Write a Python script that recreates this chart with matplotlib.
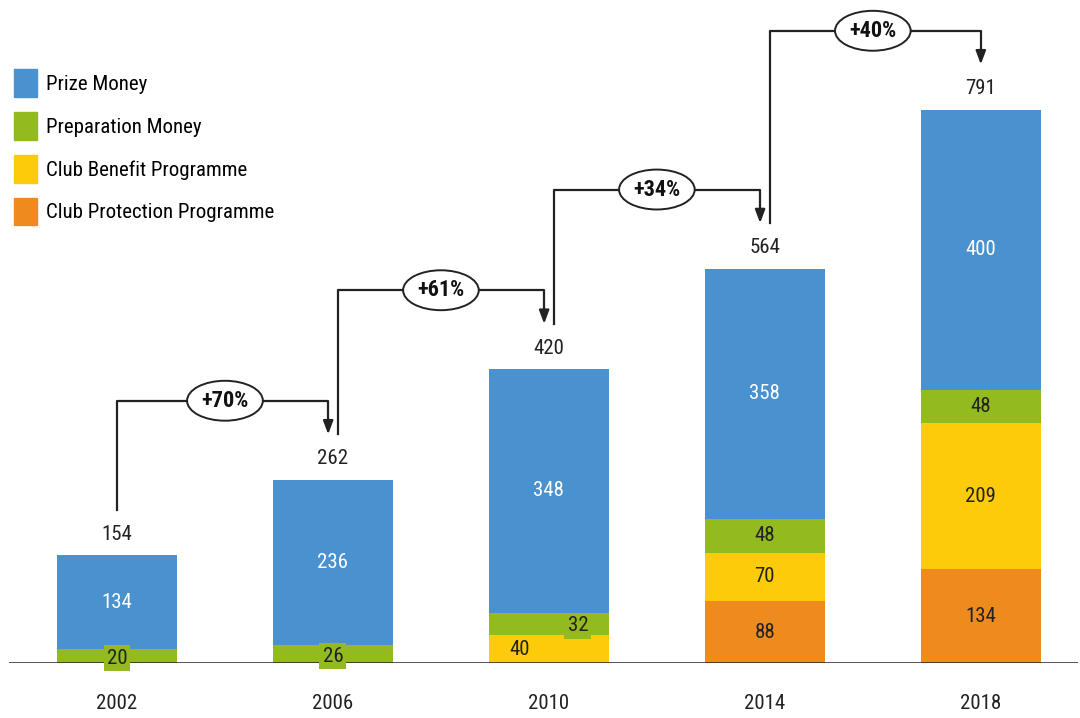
import matplotlib.pyplot as plt
from matplotlib import font_manager
from matplotlib.patches import Patch
import numpy as np

# 优先用窄体字
have = {f.name for f in font_manager.fontManager.ttflist}
fam = 'DejaVu Sans'
for name in ['Liberation Sans Narrow', 'DejaVu Sans Condensed', 'Roboto Condensed',
             'Open Sans Condensed', 'Noto Sans Condensed', 'Liberation Sans']:
    if name in have:
        fam = name
        break
plt.rcParams['font.family'] = [fam, 'DejaVu Sans']

# 各届奖金构成（单位：百万欧元）
years = ['2002', '2006', '2010', '2014', '2018']
protection = [0, 0, 0, 88, 134]
benefit = [0, 0, 40, 70, 209]
preparation = [20, 26, 32, 48, 48]
prize = [134, 236, 348, 358, 400]
totals = [154, 262, 420, 564, 791]
growth = ['+70%', '+61%', '+34%', '+40%']

names = ['Club Protection Programme', 'Club Benefit Programme', 'Preparation Money', 'Prize Money']
colors = ['#ED8B1F', '#FECB0A', '#93BA1E', '#4A92CF']
series = [protection, benefit, preparation, prize]
txt_colors = ['#222222', '#222222', '#222222', 'white']
fs = 15

fig = plt.figure(figsize=(10.8, 7.18), dpi=100)
ax = fig.add_axes([9 / 1080, 55 / 718, 1069 / 1080, 663 / 718])

x = np.arange(len(years))
w = 0.556
bottom = np.zeros(len(years))
for k, (vals, c) in enumerate(zip(series, colors)):
    vals = np.array(vals)
    ax.bar(x, vals, w, bottom=bottom, color=c, linewidth=0)
    for i, v in enumerate(vals):
        if v == 0:
            continue
        xi = x[i]
        yi = bottom[i] + v / 2
        box = None
        # 2010 年两个小块的标签左右错开
        if years[i] == '2010' and k == 1:
            xi -= 0.134
        if years[i] == '2010' and k == 2:
            xi += 0.134
        if k == 2 and v < 40:
            box = dict(boxstyle='square,pad=0.15', fc=colors[2], ec='none')
            yi -= 3
        ax.text(xi, yi, str(v), ha='center', va='center', fontsize=fs,
                color=txt_colors[k], bbox=box, zorder=5)
    bottom += vals

for i, t in enumerate(totals):
    ax.text(x[i], t + 30, str(t), ha='center', va='center', fontsize=fs, color='#222222')

# 增长率连接线
off = 0.022
for i in range(len(growth)):
    x0 = x[i] + (off if i > 0 else 0)
    x1 = x[i + 1] - (off if i + 1 < len(years) - 1 else 0)
    y0 = totals[i] + 65
    y1 = totals[i + 1] + 65
    lvl = totals[i + 1] + 113
    ax.plot([x0, x0, x1, x1], [y0, lvl, lvl, y1 + 20], color='#222222', lw=1.6, zorder=3)
    ax.annotate('', xy=(x1, y1), xytext=(x1, y1 + 22),
                arrowprops=dict(arrowstyle='-|>,head_length=0.8,head_width=0.3',
                                color='#222222', lw=1.6, shrinkA=0, shrinkB=0), zorder=3)
    ax.text((x[i] + x[i + 1]) / 2, lvl, growth[i], ha='center', va='center',
            fontsize=fs + 1, fontweight='bold', color='#111111', zorder=6,
            bbox=dict(boxstyle='ellipse,pad=0.14', fc='white', ec='#222222', lw=1.4))

ax.set_xlim(-0.5, 4.45)
ax.set_ylim(0, 948)
ax.axhline(0, color='#222222', lw=1.8, zorder=4)
for s in ax.spines.values():
    s.set_visible(False)
ax.set_yticks([])
ax.set_xticks(x)
ax.set_xticklabels(years, fontsize=fs, color='#222222')
ax.tick_params(axis='x', length=0, pad=22)

handles = [Patch(color=colors[k], label=names[k]) for k in [3, 2, 1, 0]]
fig.legend(handles=handles, loc='upper left', bbox_to_anchor=(0.005, 0.915),
           frameon=False, fontsize=fs, handlelength=1.1, handleheight=1.65,
           handletextpad=0.45, labelspacing=0.74, borderaxespad=0)

fig.savefig('out.png', dpi=100)
